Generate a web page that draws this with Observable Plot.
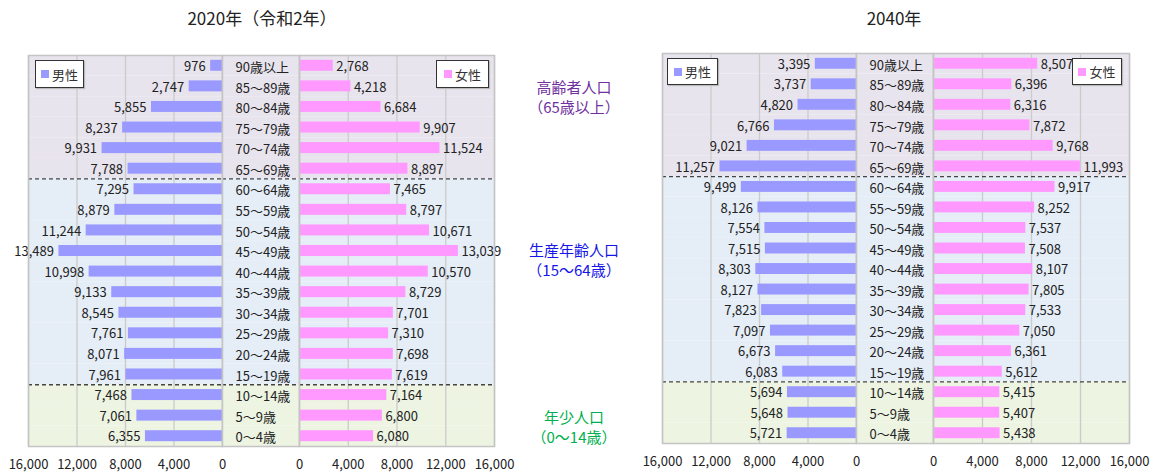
<!DOCTYPE html>
<html><head><meta charset="utf-8">
<script src="https://cdn.jsdelivr.net/npm/d3@7"></script>
<script src="https://cdn.jsdelivr.net/npm/@observablehq/plot@0.6"></script>
<style>
body{margin:0;width:1150px;height:472px;position:relative;background:#fff;font-family:"Noto Sans CJK JP","Noto Sans",sans-serif;overflow:hidden;color:#222}
.title{position:absolute;top:5px;font-size:17px;transform:translateX(-50%);white-space:nowrap}
.legend{position:absolute;background:#fff;border:1px solid #333;box-shadow:1px 1px 1px #bbb;font-size:13px;color:#333;display:flex;align-items:center;justify-content:center;gap:3px;box-sizing:border-box}
.legend span.sw{display:inline-block;width:8px;height:8px}
.note{position:absolute;transform:translateX(-50%);text-align:center;font-size:15px;line-height:20px;white-space:nowrap}
</style></head><body>
<script>
const ages = ["90歳以上","85～89歳","80～84歳","75～79歳","70～74歳","65～69歳",
  "60～64歳","55～59歳","50～54歳","45～49歳","40～44歳","35～39歳","30～34歳","25～29歳","20～24歳","15～19歳",
  "10～14歳","5～9歳","0～4歳"];
const ageGroup = ["高齢者","高齢者","高齢者","高齢者","高齢者","高齢者",
  "生産年齢","生産年齢","生産年齢","生産年齢","生産年齢","生産年齢","生産年齢","生産年齢","生産年齢","生産年齢",
  "年少","年少","年少"];
const male2020 = [976,2747,5855,8237,9931,7788,7295,8879,11244,13489,10998,9133,8545,7761,8071,7961,7468,7061,6355];
const female2020 = [2768,4218,6684,9907,11524,8897,7465,8797,10671,13039,10570,8729,7701,7310,7698,7619,7164,6800,6080];
const male2040 = [3395,3737,4820,6766,9021,11257,9499,8126,7554,7515,8303,8127,7823,7097,6673,6083,5694,5648,5721];
const female2040 = [8507,6396,6316,7872,9768,11993,9917,8252,7537,7508,8107,7805,7533,7050,6361,5612,5415,5407,5438];
const xTicks = [0,4000,8000,12000,16000];
const groupFill = {"高齢者":"#E8E4EE","生産年齢":"#E5EDF7","年少":"#EDF4E2"};
const MALE = "#9999FF", FEMALE = "#FF99FF";
const fmt = d3.format(",");
const FONT = '"Noto Sans CJK JP","Noto Sans",sans-serif';

function place(el, left, top){ el.style.position="absolute"; el.style.left=left+"px"; el.style.top=top+"px"; document.body.appendChild(el); }

function buildYear(cfg, male, female){
  const rows = ages.map((a,i)=>({age:a, group:ageGroup[i], bg:groupFill[ageGroup[i]], male:male[i], female:female[i]}));
  const bounds = rows.filter((d,i)=> i>0 && d.group!==rows[i-1].group).map(d=>d.age);
  const H = 472, mt = cfg.top, mb = H - cfg.bottom;
  const step = (cfg.bottom - cfg.top)/ages.length;
  const y = {domain: ages, padding: 0, round: false, axis: null};
  const style = {background:"transparent", fontSize:"13px", fontFamily:FONT, color:"#222", overflow:"visible"};
  const dashed = Plot.ruleY(bounds, {stroke:"#444", strokeWidth:1.3, strokeDasharray:"4,3", dy:-step/2});
  const frame = Plot.frame({stroke:"#C4C4C4", strokeWidth:1.5});
  const xAxis = {domain:[0,16000], ticks:xTicks, tickFormat:fmt, tickSize:0, tickPadding:13, label:null};
  const inset = 4.8;

  const mL = 40;
  const maleSvg = Plot.plot({
    width: cfg.zeroL - cfg.left + mL, height:H, marginLeft:mL, marginRight:0, marginTop:mt, marginBottom:mb,
    x:{...xAxis, reverse:true}, y, color:{type:"identity"}, style,
    marks:[
      Plot.barX(rows,{x1:0, x2:16000, y:"age", fill:"bg"}),
      Plot.ruleX(xTicks,{stroke:"#CBCBCB", strokeWidth:1.3}),
      Plot.barX(rows,{x:"male", y:"age", fill:MALE, insetTop:inset, insetBottom:inset}),
      Plot.text(rows,{x:"male", y:"age", text:d=>fmt(d.male), textAnchor:"end", dx:-5, dy:1, fill:"#222"}),
      dashed, frame
    ]});
  place(maleSvg, cfg.left - mL, 0);

  const midSvg = Plot.plot({
    width: cfg.zeroR - cfg.zeroL, height:H, marginLeft:0, marginRight:0, marginTop:mt, marginBottom:mb,
    x:{domain:[0,1], axis:null}, y, color:{type:"identity"}, style,
    marks:[
      Plot.barX(rows,{x1:0, x2:1, y:"age", fill:"bg"}),
      Plot.text(rows,{y:"age", text:"age", frameAnchor:"left", textAnchor:"start", dx:13, dy:2, fill:"#222"}),
      dashed, frame
    ]});
  place(midSvg, cfg.zeroL, 0);

  const fL = 10, fR = 30;
  const femaleSvg = Plot.plot({
    width: cfg.right - cfg.zeroR + fL + fR, height:H, marginLeft:fL, marginRight:fR, marginTop:mt, marginBottom:mb,
    x:xAxis, y, color:{type:"identity"}, style,
    marks:[
      Plot.barX(rows,{x1:0, x2:16000, y:"age", fill:"bg"}),
      Plot.ruleX(xTicks,{stroke:"#CBCBCB", strokeWidth:1.3}),
      Plot.barX(rows,{x:"female", y:"age", fill:FEMALE, insetTop:inset, insetBottom:inset}),
      Plot.text(rows,{x:"female", y:"age", text:d=>fmt(d.female), textAnchor:"start", dx:3, dy:1, fill:"#222"}),
      dashed, frame
    ]});
  place(femaleSvg, cfg.zeroR - fL, 0);

  const t = document.createElement("div"); t.className="title"; t.textContent=cfg.title; t.style.left=cfg.titleX+"px";
  document.body.appendChild(t);

  const lm = document.createElement("div"); lm.className="legend";
  lm.innerHTML = `<span class="sw" style="background:${MALE}"></span>男性`;
  Object.assign(lm.style,{left:cfg.legM[0]+"px", top:cfg.legM[1]+"px", width:cfg.legM[2]+"px", height:cfg.legM[3]+"px"});
  document.body.appendChild(lm);
  const lf = document.createElement("div"); lf.className="legend";
  lf.innerHTML = `<span class="sw" style="background:${FEMALE}"></span>女性`;
  Object.assign(lf.style,{left:cfg.legF[0]+"px", top:cfg.legF[1]+"px", width:cfg.legF[2]+"px", height:cfg.legF[3]+"px"});
  document.body.appendChild(lf);
}

buildYear({title:"2020年（令和2年）", titleX:262, left:28, zeroL:222, zeroR:299, right:494, top:55, bottom:446,
  legM:[35,60,49,28], legF:[436,60,53,28]}, male2020, female2020);
buildYear({title:"2040年", titleX:894, left:662, zeroL:856, zeroR:933, right:1129, top:53, bottom:443,
  legM:[667,58,51,27], legF:[1072,58,50,27]}, male2040, female2040);

const notes = [
  {lines:["高齢者人口","（65歳以上）"], color:"#7030A0", top:77},
  {lines:["生産年齢人口","（15～64歳）"], color:"#1515E8", top:240},
  {lines:["年少人口","（0～14歳）"], color:"#00B050", top:407}
];
for (const n of notes){
  const d = document.createElement("div"); d.className="note";
  d.style.left="574px"; d.style.top=n.top+"px"; d.style.color=n.color;
  d.innerHTML = n.lines.join("<br>");
  document.body.appendChild(d);
}
</script>
</body></html>
